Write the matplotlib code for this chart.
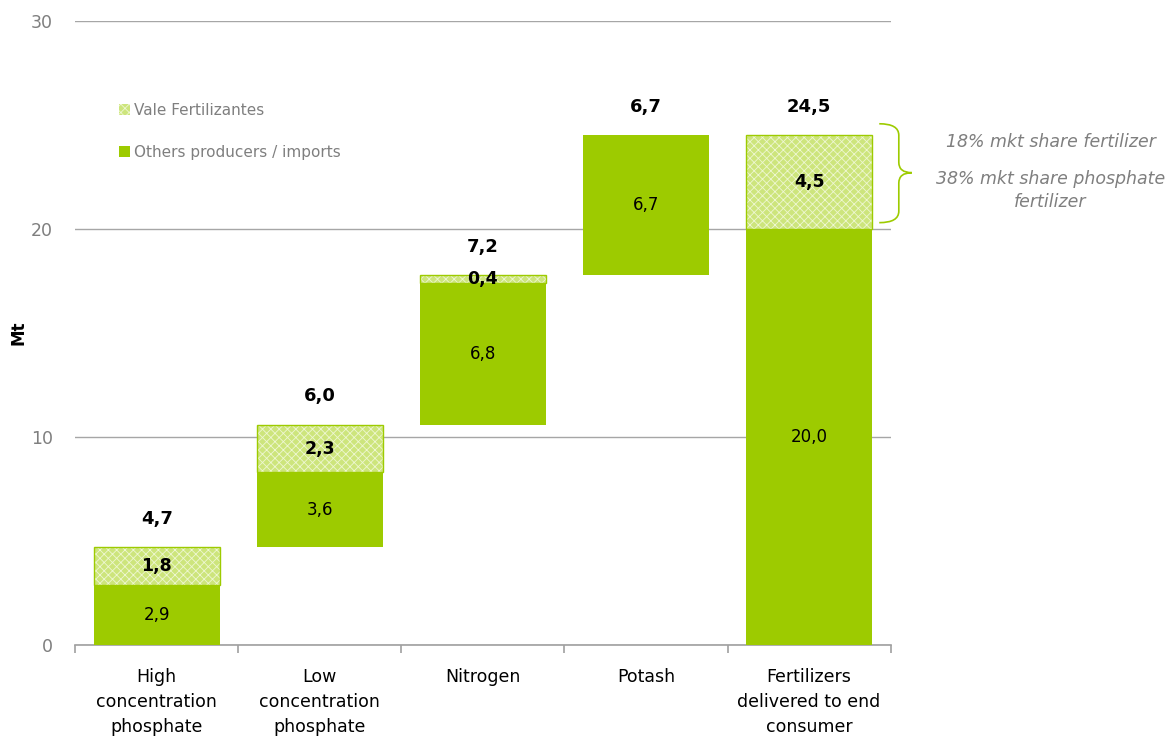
import numpy as np
import matplotlib.pyplot as plt
from matplotlib.patches import Patch, PathPatch
from matplotlib.path import Path

categories = ["High\nconcentration\nphosphate", "Low\nconcentration\nphosphate",
              "Nitrogen", "Potash", "Fertilizers\ndelivered to end\nconsumer"]
others = [2.9, 3.6, 6.8, 6.7, 20.0]
vale = [1.8, 2.3, 0.4, 0.0, 4.5]
totals = ["4,7", "6,0", "7,2", "6,7", "24,5"]
others_lbl = ["2,9", "3,6", "6,8", "6,7", "20,0"]
vale_lbl = ["1,8", "2,3", "0,4", "", "4,5"]

green = "#9dcb00"
light = "#cde57c"
grey = "#7f7f7f"

plt.rcParams['hatch.linewidth'] = 0.6

fig = plt.figure(figsize=(11.75, 7.4), dpi=100)
ax = fig.add_axes([0.064, 0.128, 0.694, 0.844])

x = np.arange(len(categories))
# waterfall: each bar starts where the previous ended, last bar starts at 0
bottoms = np.concatenate([[0], np.cumsum(np.array(others) + np.array(vale))[:-1]])
bottoms[-1] = 0
w = 0.77

ax.bar(x, others, w, bottom=bottoms, color=green, linewidth=0, zorder=3)
vb = bottoms + np.array(others)
ax.bar(x, vale, w, bottom=vb, color=light, edgecolor="#eef7d2", hatch="xxxx",
       linewidth=0, zorder=3)
for i in range(len(x)):
    if vale[i] > 0:
        ax.bar(x[i], vale[i], w, bottom=vb[i], fill=False, edgecolor=green,
               linewidth=1.0, zorder=4)

for i in range(len(x)):
    ax.text(x[i], bottoms[i] + others[i] / 2, others_lbl[i], ha="center", va="center",
            fontsize=12, zorder=5)
    if vale[i] > 0:
        ax.text(x[i], vb[i] + vale[i] / 2, vale_lbl[i], ha="center", va="center",
                fontsize=12.5, fontweight="bold", zorder=5)
    top = vb[i] + vale[i]
    ax.text(x[i], top + 1.35, totals[i], ha="center", va="center", fontsize=13,
            fontweight="bold")

ax.set_xlim(-0.5, 4.5)
ax.set_ylim(0, 30)
ax.set_yticks([0, 10, 20, 30])
ax.yaxis.grid(True, color="#a6a6a6", linewidth=1, zorder=0)
ax.tick_params(axis="y", length=0, labelsize=12.5, labelcolor=grey, pad=16)
for s in ["left", "right", "top"]:
    ax.spines[s].set_visible(False)
ax.spines["bottom"].set_color("#a0a0a0")
ax.spines["bottom"].set_linewidth(1.2)

ax.set_xticks(np.arange(-0.5, 5.0, 1.0), minor=False)
ax.set_xticklabels([])
ax.tick_params(axis="x", which="major", length=6, color="#a0a0a0", width=1.2)
ax.set_xticks(x, minor=True)
ax.set_xticklabels(categories, minor=True, fontsize=12.5, linespacing=1.5)
ax.tick_params(axis="x", which="minor", length=0, pad=16)
ax.set_ylabel("Mt", fontsize=12, fontweight="bold")
ax.yaxis.set_label_coords(-0.058, 0.5)

handles = [Patch(facecolor=light, edgecolor="#eef7d2", hatch="xxxx", linewidth=0),
           Patch(facecolor=green, linewidth=0)]
leg = ax.legend(handles, ["Vale Fertilizantes", "Others producers / imports"],
                loc="upper left", bbox_to_anchor=(0.037, 0.89), frameon=False,
                fontsize=11, handlelength=0.7, handleheight=0.7, handletextpad=0.3,
                labelspacing=1.75)
for t in leg.get_texts():
    t.set_color(grey)

# curly brace next to the last bar
verts = [(4.43, 25.05), (4.55, 25.05), (4.55, 24.5), (4.55, 23.2),
         (4.55, 22.7), (4.63, 22.7), (4.55, 22.7), (4.55, 22.2),
         (4.55, 20.85), (4.55, 20.3), (4.43, 20.3)]
codes = [Path.MOVETO, Path.CURVE3, Path.CURVE3, Path.LINETO,
         Path.CURVE3, Path.CURVE3, Path.CURVE3, Path.CURVE3,
         Path.LINETO, Path.CURVE3, Path.CURVE3]
ax.add_patch(PathPatch(Path(verts, codes), fill=False, edgecolor=green,
                       linewidth=1.2, clip_on=False))
ax.text(5.48, 24.18, "18% mkt share fertilizer", ha="center", va="center",
        fontsize=12.5, style="italic", color=grey, clip_on=False)
ax.text(5.48, 21.85, "38% mkt share phosphate\nfertilizer", ha="center", va="center",
        fontsize=12.5, style="italic", color=grey, clip_on=False, linespacing=1.4)

fig.savefig("out.png", dpi=100)
